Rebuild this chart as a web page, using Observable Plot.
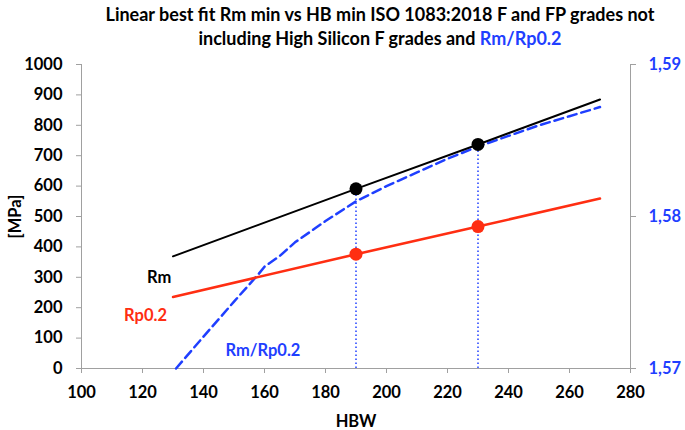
<!DOCTYPE html>
<html><head><meta charset="utf-8">
<script src="https://cdn.jsdelivr.net/npm/d3@7"></script>
<script src="https://cdn.jsdelivr.net/npm/@observablehq/plot@0.6"></script>
<style>
body{margin:0;background:#fff;font-family:Lato,"Open Sans",sans-serif;}
#title{width:685px;height:52px;box-sizing:border-box;padding-left:75px;padding-top:2px;text-align:center;font-weight:bold;font-size:18px;line-height:24px;color:#000;white-space:nowrap;}
#chart svg{display:block;}
</style></head><body>
<div id="title">Linear best fit Rm min vs HB min ISO 1083:2018 F and FP grades not<br>including High Silicon F grades and <span style="color:#1f3fff">Rm/Rp0.2</span></div>
<div id="chart"></div>
<script>
// data
const hbw = [130, 190, 230, 270];
const rm = [369, 591, 737, 885];
const rp02 = [235, 376, 467, 559];
const markedHbw = [190, 230];
const ratioHbw = [131, 140, 150, 158, 160, 165, 170, 175, 180, 190, 200, 210, 220, 230, 240, 250, 260, 270];
const ratio = [1.5700, 1.5721, 1.5744, 1.5762, 1.5767, 1.5774, 1.5783, 1.5790, 1.5797, 1.5810, 1.5820, 1.5829, 1.5838, 1.5846, 1.5853, 1.5860, 1.5866, 1.5872];
const xTicks = [100, 120, 140, 160, 180, 200, 220, 240, 260, 280];
const yTicks = [0, 100, 200, 300, 400, 500, 600, 700, 800, 900, 1000];
const rightTicks = [1.57, 1.58, 1.59];
const labels = [
  {x: 125.5, y: 298, text: "Rm", color: "#000000"},
  {x: 121, y: 172, text: "Rp0.2", color: "#ff2e12"},
  {x: 159.5, y: 60, text: "Rm/Rp0.2", color: "#1f3fff"}
];

const BLUE = "#1f3fff", RED = "#ff2e12", GREY = "#a0a0a0";
const rMin = 1.57, rMax = 1.59, yMax = 1000;
const toLeft = r => (r - rMin) / (rMax - rMin) * yMax;
const fromLeft = v => rMin + v / yMax * (rMax - rMin);

const fit = hbw.map((x, i) => ({x, rm: rm[i], rp: rp02[i]}));
const marked = fit.filter(d => markedHbw.includes(d.x));
const ratioData = ratioHbw.map((x, i) => ({x, r: ratio[i]}));

const chart = Plot.plot({
  width: 685, height: 378,
  marginTop: 12, marginBottom: 62, marginLeft: 81, marginRight: 55,
  x: {domain: [100, 280]},
  y: {domain: [0, 1000]},
  style: {fontFamily: "Lato, 'Open Sans', sans-serif", fontSize: "16.5px", fontWeight: "bold", color: "#000", background: "#fff", overflow: "visible"},
  marks: [
    Plot.ruleY([0], {stroke: GREY}),
    Plot.ruleX([100], {stroke: GREY}),
    Plot.ruleX([280], {stroke: GREY}),
    Plot.axisX({ticks: xTicks, tickFormat: d => String(d), tickSize: 5, tickPadding: 13, stroke: GREY, fill: "#000", label: "HBW", labelAnchor: "center", labelArrow: "none", labelOffset: 58}),
    Plot.axisY({ticks: yTicks, tickFormat: d => String(d), tickSize: 5, tickPadding: 14, stroke: GREY, fill: "#000", label: "[MPa]", labelAnchor: "center", labelArrow: "none", labelOffset: 72}),
    Plot.axisY({anchor: "right", ticks: rightTicks.map(toLeft), tickFormat: v => fromLeft(v).toFixed(2).replace(".", ","), tickSize: 5, tickPadding: 13, stroke: GREY, fill: BLUE, label: null}),
    Plot.line(ratioData, {x: "x", y: d => toLeft(d.r), stroke: BLUE, strokeWidth: 2.5, strokeDasharray: "9,5"}),
    Plot.ruleX(marked, {x: "x", y1: 0, y2: "rm", stroke: BLUE, strokeWidth: 1.5, strokeDasharray: "1.5,2.5"}),
    Plot.line(fit, {x: "x", y: "rm", stroke: "#000", strokeWidth: 2}),
    Plot.line(fit, {x: "x", y: "rp", stroke: RED, strokeWidth: 2.5}),
    Plot.dot(marked, {x: "x", y: "rm", r: 6.5, fill: "#000"}),
    Plot.dot(marked, {x: "x", y: "rp", r: 6.5, fill: RED}),
    Plot.text(labels, {x: "x", y: "y", text: "text", fill: "color", fontSize: 16.5, fontWeight: "bold"})
  ]
});
document.getElementById("chart").appendChild(chart);
</script>
</body></html>
